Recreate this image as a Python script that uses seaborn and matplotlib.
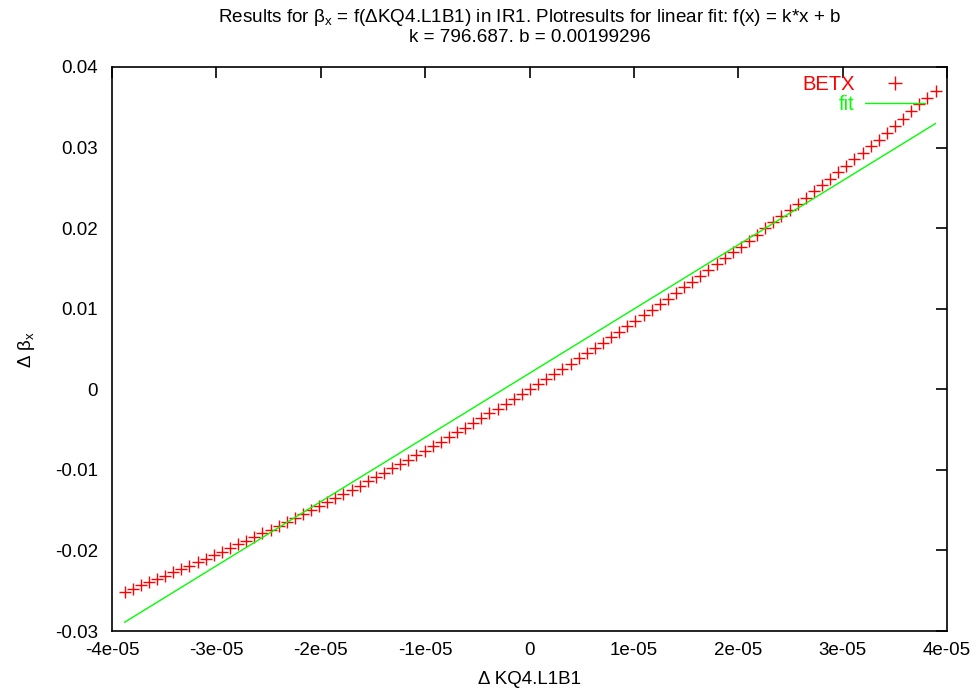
import numpy as np
import pandas as pd
import matplotlib
matplotlib.use("Agg")
import matplotlib.pyplot as plt
import seaborn as sns
from matplotlib.lines import Line2D

# Quadrupole strength offsets of the scan, in units of 1e-5
dk_scan = [
    -3.8800, -3.8023, -3.7246, -3.6469, -3.5692, -3.4915, -3.4138, -3.3361, -3.2584, -3.1807,
    -3.1030, -3.0253, -2.9476, -2.8699, -2.7922, -2.7145, -2.6368, -2.5591, -2.4814, -2.4037,
    -2.3260, -2.2483, -2.1706, -2.0929, -2.0152, -1.9375, -1.8598, -1.7821, -1.7044, -1.6267,
    -1.5490, -1.4713, -1.3936, -1.3159, -1.2382, -1.1605, -1.0828, -1.0051, -0.9274, -0.8497,
    -0.7720, -0.6943, -0.6166, -0.5389, -0.4612, -0.3835, -0.3058, -0.2281, -0.1504, -0.0727,
    0.0050, 0.0827, 0.1604, 0.2381, 0.3158, 0.3935, 0.4712, 0.5489, 0.6266, 0.7043,
    0.7820, 0.8597, 0.9374, 1.0151, 1.0928, 1.1705, 1.2482, 1.3259, 1.4036, 1.4813,
    1.5590, 1.6367, 1.7144, 1.7921, 1.8698, 1.9475, 2.0252, 2.1029, 2.1806, 2.2583,
    2.3360, 2.4137, 2.4914, 2.5691, 2.6468, 2.7245, 2.8022, 2.8799, 2.9576, 3.0353,
    3.1130, 3.1907, 3.2684, 3.3461, 3.4238, 3.5015, 3.5792, 3.6569, 3.7346, 3.8123,
    3.8900,
]

# Horizontal beta-beating for each strength offset
betx = [
    -0.02522, -0.02474, -0.02434, -0.02395, -0.02354, -0.02313, -0.02272, -0.02230, -0.02188, -0.02146,
    -0.02102, -0.02059, -0.02015, -0.01970, -0.01925, -0.01880, -0.01834, -0.01787, -0.01741, -0.01693,
    -0.01646, -0.01597, -0.01549, -0.01499, -0.01450, -0.01400, -0.01349, -0.01298, -0.01247, -0.01195,
    -0.01142, -0.01089, -0.01036, -0.00982, -0.00928, -0.00873, -0.00818, -0.00762, -0.00706, -0.00649,
    -0.00592, -0.00535, -0.00477, -0.00418, -0.00359, -0.00300, -0.00240, -0.00180, -0.00119, -0.00058,
    0.00004, 0.00066, 0.00129, 0.00192, 0.00256, 0.00320, 0.00384, 0.00449, 0.00515, 0.00580,
    0.00647, 0.00714, 0.00781, 0.00849, 0.00917, 0.00986, 0.01055, 0.01124, 0.01195, 0.01265,
    0.01336, 0.01408, 0.01480, 0.01552, 0.01625, 0.01698, 0.01772, 0.01846, 0.01921, 0.01996,
    0.02072, 0.02148, 0.02225, 0.02302, 0.02379, 0.02457, 0.02536, 0.02615, 0.02694, 0.02774,
    0.02854, 0.02935, 0.03016, 0.03098, 0.03180, 0.03263, 0.03360, 0.03450, 0.03535, 0.03615,
    0.03700,
]

# Linear fit parameters f(x) = k*x + b
k_fit = 796.687
b_fit = 0.00199296

xticks = [-4e-5, -3e-5, -2e-5, -1e-5, 0.0, 1e-5, 2e-5, 3e-5, 4e-5]
xtick_labels = ["-4e-05", "-3e-05", "-2e-05", "-1e-05", "0", "1e-05", "2e-05", "3e-05", "4e-05"]
yticks = [-0.03, -0.02, -0.01, 0.0, 0.01, 0.02, 0.03, 0.04]
ytick_labels = ["-0.03", "-0.02", "-0.01", "0", "0.01", "0.02", "0.03", "0.04"]

sns.set_style("white")
plt.rcParams["font.family"] = ["Liberation Sans", "DejaVu Sans"]
plt.rcParams["text.color"] = "black"
plt.rcParams["mathtext.fontset"] = "custom"
plt.rcParams["mathtext.rm"] = "Liberation Sans"
plt.rcParams["mathtext.it"] = "Liberation Sans:italic"

W, H = 979, 694
fig = plt.figure(figsize=(W / 100, H / 100), dpi=100)
ax = fig.add_axes([112 / W, (H - 631) / H, 835 / W, 564 / H])

df = pd.DataFrame({"dk": np.array(dk_scan) * 1e-5, "betx": betx})
df["fit"] = k_fit * df["dk"] + b_fit

red = "#ff0000"
green = "#00ff00"

sns.scatterplot(data=df, x="dk", y="betx", marker="+", color=red, s=70,
                linewidth=1.0, ax=ax, zorder=2, legend=False)
sns.lineplot(data=df, x="dk", y="fit", color=green, linewidth=1.0, ax=ax,
             zorder=3, legend=False)

ax.set_xlim(-4e-5, 4e-5)
ax.set_ylim(-0.03, 0.04)
ax.set_xticks(xticks)
ax.set_xticklabels(xtick_labels)
ax.set_yticks(yticks)
ax.set_yticklabels(ytick_labels)
ax.set_xlabel("")
ax.set_ylabel("")

for sp in ax.spines.values():
    sp.set_visible(True)
    sp.set_color("black")
    sp.set_linewidth(1.2)

ax.tick_params(axis="both", which="both", direction="in", top=True, right=True,
               length=8, width=1.2, color="black", labelsize=13.5, labelcolor="black")
ax.tick_params(axis="y", pad=10)
ax.tick_params(axis="x", pad=8)

handles = [
    Line2D([], [], marker="+", color=red, linestyle="None", markersize=10, markeredgewidth=1.0),
    Line2D([], [], color=green, linewidth=1.0),
]
ax.legend(handles, ["BETX", "fit"], loc="upper right", bbox_to_anchor=(0.974, 0.985),
          markerfirst=False, frameon=False, labelcolor=[red, green], fontsize=14.5,
          handlelength=3.0, handletextpad=0.5, labelspacing=0.05, borderpad=0,
          borderaxespad=0)

fig.text(529.5 / W, 1 - 17 / H,
         r"Results for β$_\mathregular{x}$ = f(ΔKQ4.L1B1) in IR1. Plotresults for linear fit: f(x) = k*x + b",
         ha="center", va="center", fontsize=13.6, color="black")
fig.text(529.5 / W, 1 - 38 / H, "k = 796.687. b = 0.00199296",
         ha="center", va="center", fontsize=13.6, color="black")
fig.text(529.5 / W, 1 - 679 / H, "Δ KQ4.L1B1", ha="center", va="center",
         fontsize=13.5, color="black")
fig.text(27 / W, 1 - 349 / H, r"Δ β$_\mathregular{x}$", ha="center", va="center",
         rotation=90, fontsize=13.5, color="black")

fig.savefig("out.png", dpi=100)
